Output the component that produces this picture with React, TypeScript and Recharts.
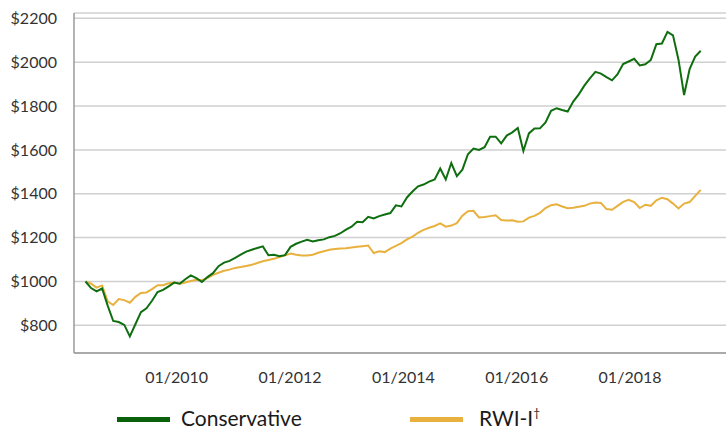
import { LineChart, Line, XAxis, YAxis, CartesianGrid, Legend } from 'recharts';

// series sampled about every 5 weeks, starting mid-2008
const START_YEAR = 2008.391;
const STEP_YEARS = 0.0978;

const conservative = [
  1000, 970, 955, 968, 890, 820, 815, 802, 750, 805,
  860, 878, 912, 952, 962, 978, 995, 990, 1010, 1028,
  1015, 998, 1020, 1038, 1070, 1086, 1094, 1108, 1122, 1136,
  1145, 1153, 1160, 1120, 1122, 1115, 1120, 1158, 1172, 1182,
  1190, 1182, 1188, 1192, 1202, 1208, 1220, 1236, 1250, 1272,
  1270, 1295, 1287, 1298, 1305, 1312, 1347, 1342, 1383, 1410,
  1434, 1442, 1455, 1465, 1515, 1465, 1540, 1480, 1510, 1580,
  1606, 1600, 1612, 1660, 1660, 1630, 1665, 1680, 1700, 1595,
  1675, 1697, 1698, 1725, 1778, 1790, 1782, 1775, 1820, 1853,
  1893, 1926, 1956, 1948, 1932, 1917, 1945, 1991, 2003, 2015,
  1985, 1990, 2010, 2082, 2085, 2138, 2122, 2010, 1850, 1968,
  2025, 2052,
];

const rwiI = [
  1000, 990, 972, 982, 910, 893, 920, 915, 903, 930,
  948, 950, 965, 983, 983, 992, 995, 990, 995, 1002,
  1008, 1006, 1016, 1030, 1040, 1049, 1054, 1062, 1066, 1071,
  1076, 1084, 1092, 1098, 1104, 1111, 1119, 1127, 1122, 1119,
  1118, 1122, 1131, 1138, 1145, 1148, 1150, 1152, 1155, 1158,
  1161, 1164, 1130, 1138, 1134, 1150, 1162, 1175, 1192, 1205,
  1222, 1235, 1245, 1253, 1265, 1250, 1255, 1266, 1300, 1320,
  1322, 1292, 1294, 1298, 1302, 1280, 1278, 1279, 1272, 1274,
  1291, 1299, 1313, 1335, 1348, 1352, 1342, 1334, 1336, 1341,
  1345, 1355, 1360, 1358, 1330, 1327, 1345, 1363, 1372, 1362,
  1335, 1350, 1345, 1370, 1382, 1375, 1355, 1333, 1355, 1362,
  1390, 1418,
];

const yTicks = [800, 1000, 1200, 1400, 1600, 1800, 2000, 2200];
const xTicks = [2010, 2012, 2014, 2016, 2018];

const GREEN = '#0f6e0f';
const GOLD = '#e8b13e';
const FONT = 'Lato, "Open Sans", sans-serif';

const data = conservative.map((v, i) => ({
  t: START_YEAR + i * STEP_YEARS,
  conservative: v,
  rwi: rwiI[i],
}));

function ChartLegend() {
  const text = { position: 'absolute' as const, top: 10, height: 20, lineHeight: '20px', fontSize: 21, color: '#1a1a1a', whiteSpace: 'nowrap' as const };
  return (
    <div style={{ position: 'relative', width: 728, height: 32, fontFamily: FONT }}>
      <span style={{ position: 'absolute', left: 117, top: 18.5, width: 53, height: 5, background: '#0b610b' }} />
      <span style={{ ...text, left: 181 }}>Conservative</span>
      <span style={{ position: 'absolute', left: 410, top: 18.5, width: 53, height: 5, background: GOLD }} />
      <span style={{ ...text, left: 479 }}>
        RWI-I<sup style={{ fontSize: 12, lineHeight: '12px', verticalAlign: 'top', position: 'relative', top: -1 }}>†</sup>
      </span>
    </div>
  );
}

export default function App() {
  return (
    <div style={{ width: 728, height: 430, overflow: 'hidden' }}>
      <style>{'body{margin:0}'}</style>
      <LineChart width={728} height={430} data={data} margin={{ top: 13, right: 2, bottom: 0, left: 0 }}>
        <CartesianGrid vertical={false} stroke="#d0d0d0" strokeWidth={1.5} />
        <XAxis
          dataKey="t"
          type="number"
          domain={[2008.188, 2019.693]}
          ticks={xTicks}
          tickFormatter={(t: number) => `01/${t}`}
          height={77}
          tickLine={false}
          tickSize={0}
          tickMargin={19}
          axisLine={{ stroke: '#9a9a9a', strokeWidth: 1.5 }}
          tick={{ fill: '#333', fontSize: 16, fontFamily: FONT }}
        />
        <YAxis
          domain={[674, 2224]}
          ticks={yTicks}
          tickFormatter={(v: number) => `$${v}`}
          width={74}
          tickLine={false}
          tickSize={0}
          tickMargin={17}
          axisLine={{ stroke: '#9a9a9a', strokeWidth: 1.5 }}
          tick={{ fill: '#333', fontSize: 16, fontFamily: FONT }}
        />
        <Legend
          layout="horizontal"
          verticalAlign="middle"
          align="center"
          content={() => <ChartLegend />}
          wrapperStyle={{ top: 398, left: 0, width: 728, height: 32 }}
        />
        <Line type="linear" dataKey="rwi" name="RWI-I†" stroke={GOLD} strokeWidth={2} dot={false} isAnimationActive={false} />
        <Line type="linear" dataKey="conservative" name="Conservative" stroke={GREEN} strokeWidth={2} dot={false} isAnimationActive={false} />
      </LineChart>
    </div>
  );
}
